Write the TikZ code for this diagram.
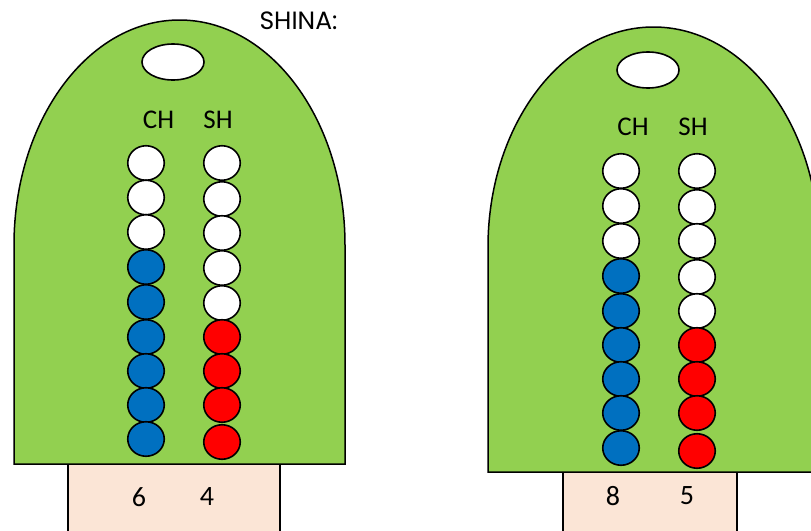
\documentclass[tikz,border=0pt]{standalone}
\usepackage{fontspec}
\setmainfont{Carlito}
\newfontfamily\gothic{Poppins}
\usetikzlibrary{shapes.geometric}
\definecolor{leaf}{RGB}{146,208,80}
\definecolor{beadblue}{RGB}{0,112,192}
\definecolor{beadred}{RGB}{255,0,0}
\definecolor{peach}{RGB}{251,229,214}
\tikzset{
  bead/.style={ellipse, draw=black, line width=1.6pt, minimum width=36.5pt, minimum height=34.5pt, inner sep=0pt},
  wb/.style={bead, fill=white},
  bb/.style={bead, fill=beadblue},
  rb/.style={bead, fill=beadred},
  hole/.style={ellipse, draw=black, line width=1.6pt, fill=white, minimum width=62pt, minimum height=36pt, inner sep=0pt},
  stand/.style={draw=black, line width=1.6pt, fill=peach},
  body/.style={draw=black, line width=1.5pt, fill=leaf},
  lbl/.style={font=\fontsize{27}{27}\selectfont, inner sep=0pt},
  numlbl/.style={font=\fontsize{28}{28}\selectfont, inner sep=0pt},
}
\begin{document}
\begin{tikzpicture}[x=1pt,y=-1pt]
\useasboundingbox (0,0) rectangle (811,530);
\clip (0,0) rectangle (811,530);
% title
\node[font=\gothic\fontsize{25}{25}\selectfont, inner sep=0pt] (title) at (298.5,21) {SHINA:};
% left abacus
\draw[stand] (68,464) rectangle (280,540);
\draw[body] (14,464) -- (14,245) arc[start angle=180, end angle=360, x radius=165.5, y radius=225] -- (345,464) -- cycle;
\node[hole] (lhole) at (173,62) {};
\node[lbl] (lch) at (158.5,119.5) {CH};
\node[lbl] (lsh) at (218,119.5) {SH};
\foreach \i/\y/\s in {1/163/wb,2/197.5/wb,3/232/wb,4/267/bb,5/302/bb,6/337/bb,7/371/bb,8/405/bb,9/439/bb}{
  \node[\s] (lc\i) at (146,\y) {};
}
\foreach \i/\y/\s in {1/163/wb,2/199/wb,3/233/wb,4/268/wb,5/303/wb,6/337/rb,7/371/rb,8/405/rb,9/442/rb}{
  \node[\s] (ls\i) at (222,\y) {};
}
\node[numlbl] (lnc) at (139,497) {6};
\node[numlbl] (lns) at (207,497) {4};
% right abacus
\draw[stand] (563,472) rectangle (737,540);
\draw[body] (488,472) -- (488,247) arc[start angle=180, end angle=360, x radius=165.5, y radius=220] -- (819,472) -- cycle;
\node[hole] (rhole) at (648,70) {};
\node[lbl] (rch) at (633,127) {CH};
\node[lbl] (rsh) at (693,127) {SH};
\foreach \i/\y/\s in {1/171/wb,2/206/wb,3/241/wb,4/276/bb,5/311/bb,6/345/bb,7/379/bb,8/413/bb,9/448/bb}{
  \node[\s] (rc\i) at (621,\y) {};
}
\foreach \i/\y/\s in {1/171/wb,2/207/wb,3/241/wb,4/277/wb,5/311/wb,6/345/rb,7/379/rb,8/413/rb,9/451/rb}{
  \node[\s] (rs\i) at (697,\y) {};
}
\node[numlbl] (rnc) at (613,496) {8};
\node[numlbl] (rns) at (687,496) {5};
\end{tikzpicture}
\end{document}
